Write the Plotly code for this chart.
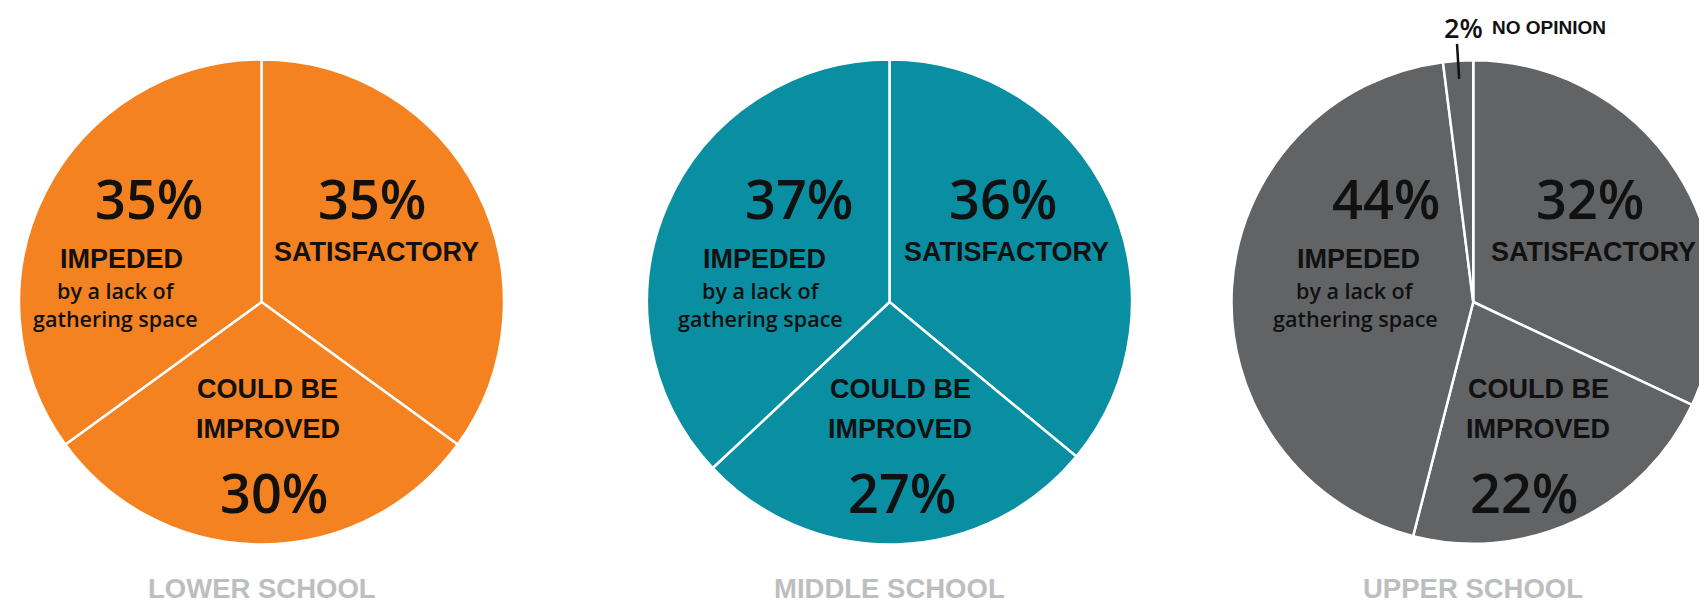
import math
import plotly.graph_objects as go

# survey data: share of answers per school
schools = ["LOWER SCHOOL", "MIDDLE SCHOOL", "UPPER SCHOOL"]
categories = ["SATISFACTORY", "COULD BE IMPROVED", "IMPEDED", "NO OPINION"]
lower_school = [35, 30, 35, 0]
middle_school = [36, 27, 37, 0]
upper_school = [32, 22, 44, 2]
values = [lower_school, middle_school, upper_school]
colors = ["#F58220", "#0A8EA1", "#626365"]

W, H = 1707, 602
OFF = 8            # page body margin
R = 242.5
CY = 302 - OFF
centers = [261.5 - OFF, 889.5 - OFF, 1474 - OFF]   # last pie runs off the right edge

# label anchor offsets (px from each pie centre)
label_dx = [
    dict(sat_pct=110, sat=115, impr_pct=12, impr=6, imp_pct=-113, imp=-140, sub=-146),
    dict(sat_pct=114, sat=117, impr_pct=12, impr=11, imp_pct=-91, imp=-125, sub=-129),
    dict(sat_pct=116, sat=119, impr_pct=50, impr=64, imp_pct=-88, imp=-116, sub=-119),
]

PCT_FONT = dict(family="Open Sans", size=54, color="#111111", weight=600)
BOLD_FONT = dict(family="Liberation Sans", size=27, color="#111111", weight="bold")
SUB_FONT = dict(family="Open Sans", size=21.5, color="#111111", weight=600)
TITLE_FONT = dict(family="Liberation Sans", size=27.5, color="#BDBEC0", weight="bold")

fig = go.Figure()
annotations = []


def px(x, y):
    return x / W, 1 - y / H


def add_text(x, y, text, font):
    ax, ay = px(x, y - OFF)
    annotations.append(dict(x=ax, y=ay, xref="paper", yref="paper", text=text,
                            showarrow=False, font=font, xanchor="center", yanchor="middle"))


for i, school in enumerate(schools):
    cx = centers[i]
    vals = [v for v in values[i] if v > 0]
    labs = [c for c, v in zip(categories, values[i]) if v > 0]
    x0, x1 = (cx - R) / W, min((cx + R) / W, 1.0)
    y0, y1 = 1 - (CY + R) / H, 1 - (CY - R) / H
    fig.add_trace(go.Pie(
        values=vals, labels=labs, sort=False, direction="clockwise", rotation=0,
        domain=dict(x=[x0, x1], y=[y0, y1]),
        marker=dict(colors=[colors[i]] * len(vals), line=dict(color="white", width=2.5)),
        textinfo="none", hoverinfo="label+percent", showlegend=False,
    ))
    # actual pie geometry after the domain is clipped to the page
    pcx = (x0 + x1) / 2 * W
    pr = min((x1 - x0) * W, (y1 - y0) * H) / 2

    d = label_dx[i]
    sat, impr, imp = values[i][0], values[i][1], values[i][2]
    add_text(cx + d["sat_pct"], 198, f"{sat}%", PCT_FONT)
    add_text(cx + d["sat"], 252, "SATISFACTORY", BOLD_FONT)
    add_text(cx + d["impr"], 389, "COULD BE", BOLD_FONT)
    add_text(cx + d["impr"], 429, "IMPROVED", BOLD_FONT)
    add_text(cx + d["impr_pct"], 492, f"{impr}%", PCT_FONT)
    add_text(cx + d["imp_pct"], 198, f"{imp}%", PCT_FONT)
    add_text(cx + d["imp"], 259, "IMPEDED", BOLD_FONT)
    add_text(cx + d["sub"], 290, "by a lack of", SUB_FONT)
    add_text(cx + d["sub"], 318, "gathering space", SUB_FONT)
    add_text(pcx, 588, school, TITLE_FONT)

    # small slice called out above the pie
    if values[i][3] > 0:
        before = sum(values[i][:3])
        mid = (before + values[i][3] / 2) / sum(values[i]) * 2 * math.pi
        sx, sy = math.sin(mid), -math.cos(mid)
        xa, ya = px(pcx + sx * pr * 0.925, CY + sy * pr * 0.925)
        xb, yb = px(pcx + sx * pr * 1.07, CY + sy * pr * 1.07)
        fig.add_shape(type="line", xref="paper", yref="paper", x0=xa, y0=ya, x1=xb, y1=yb,
                      line=dict(color="#111111", width=2.5))
        tx = pcx + sx * pr * 1.07
        add_text(tx + 6, 27, f"{values[i][3]}%",
                 dict(family="Open Sans", size=27, color="#111111", weight=600))
        add_text(tx + 92, 27, categories[3],
                 dict(family="Liberation Sans", size=19, color="#111111", weight="bold"))

fig.update_layout(
    width=W, height=H,
    margin=dict(l=0, r=0, t=0, b=0),
    paper_bgcolor="white", plot_bgcolor="white",
    annotations=annotations,
)

fig.write_html("out.html")
